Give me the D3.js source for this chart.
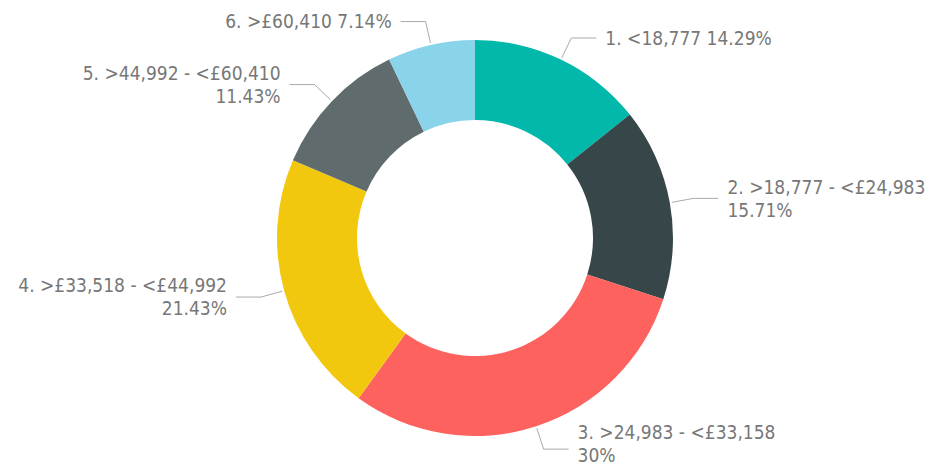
<!DOCTYPE html>
<html>
<head>
<meta charset="utf-8">
<script src="https://cdn.jsdelivr.net/npm/d3@7"></script>
<style>
  body { margin: 0; background: #fff; }
  svg text { font-family: "DejaVu Sans Condensed", "DejaVu Sans", sans-serif; font-stretch: condensed; }
</style>
</head>
<body>
<div id="chart"></div>
<script>
// income bands and their share of respondents
const bands = [
    "1. <18,777",
    "2. >18,777 - <£24,983",
    "3. >24,983 - <£33,158",
    "4. >£33,518 - <£44,992",
    "5. >44,992 - <£60,410",
    "6. >£60,410"
];
const shares = [14.29, 15.71, 30, 21.43, 11.43, 7.14];
const colors = ["#01B8AA", "#374649", "#FD625E", "#F2C80F", "#5F6B6D", "#8AD4EB"];

const width = 933, height = 468;
const cx = 475, cy = 238;
const outerR = 198, innerR = 118;

const svg = d3.select("#chart")
    .append("svg")
    .attr("width", width)
    .attr("height", height)
    .append("g")
    .attr("transform", "translate(" + cx + "," + cy + ")");

const data = bands.map((b, i) => ({ band: b, share: shares[i], color: colors[i] }));

const pie = d3.pie().sort(null).value(d => d.share);
const arc = d3.arc().innerRadius(innerR).outerRadius(outerR);
const arcs = pie(data);

svg.selectAll("path.slice")
    .data(arcs)
    .join("path")
    .attr("class", "slice")
    .attr("d", arc)
    .attr("fill", d => d.data.color);

const fmt = d3.format(".2~f");
const lineH = 23;
const maxY = height - cy - 13; // keep last text line inside the frame

function pt(a, r) { return [Math.sin(a) * r, -Math.cos(a) * r]; }

// leader lines + labels
arcs.forEach(function (d) {
    const a = (d.startAngle + d.endAngle) / 2;
    const side = Math.sin(a) >= 0 ? 1 : -1;
    const p0 = pt(a, outerR + 2);
    const p1 = pt(a, outerR + 24);
    const p2 = [p1[0] + side * 25, p1[1]];

    svg.append("polyline")
        .attr("points", [p0, p1, p2].map(p => p.join(",")).join(" "))
        .attr("fill", "none")
        .attr("stroke", "#aaaaaa")
        .attr("stroke-width", 1);

    const pctText = fmt(d.data.share) + "%";
    // labels with a range get the percentage on a second line
    const lines = d.data.band.indexOf(" - ") >= 0
        ? [d.data.band, pctText]
        : [d.data.band + " " + pctText];

    let top = p2[1] - (lines.length - 1) / 2 * lineH;
    const last = top + (lines.length - 1) * lineH;
    if (last > maxY) top -= last - maxY;

    const t = svg.append("text")
        .attr("x", p2[0] + side * 9)
        .attr("text-anchor", side > 0 ? "start" : "end")
        .style("font-size", "19px")
        .style("fill", "#777777");

    lines.forEach(function (l, i) {
        t.append("tspan")
            .attr("x", p2[0] + side * 9)
            .attr("y", top + i * lineH)
            .attr("dy", "0.36em")
            .text(l);
    });
});
</script>
</body>
</html>
